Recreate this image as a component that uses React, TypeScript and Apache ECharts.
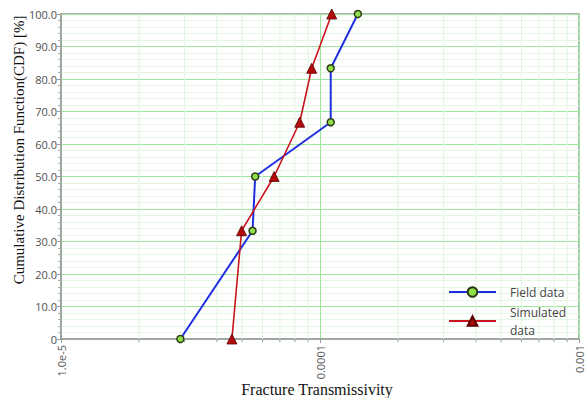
import React, { useEffect, useRef } from "react";
import * as echarts from "echarts";

const fieldX = [2.89e-5, 5.49e-5, 5.62e-5, 1.1e-4, 1.1e-4, 1.4e-4];
const fieldY = [0, 33.3, 50.0, 66.7, 83.3, 100];
const simX = [4.57e-5, 4.98e-5, 6.65e-5, 8.35e-5, 9.29e-5, 1.11e-4];
const simY = [0, 33.3, 50.0, 66.7, 83.3, 100];
const minorX = [2e-5, 3e-5, 4e-5, 5e-5, 6e-5, 7e-5, 8e-5, 9e-5, 2e-4, 3e-4, 4e-4, 5e-4, 6e-4, 7e-4, 8e-4, 9e-4];
const xTickLabels = ["1.0e-5", "0.0001", "0.001"];
const yTickLabels = ["0", "10.0", "20.0", "30.0", "40.0", "50.0", "60.0", "70.0", "80.0", "90.0", "100.0"];

export default function App() {
  const ref = useRef<HTMLDivElement>(null);
  useEffect(() => {
    if (!ref.current) return;
    const chart = echarts.init(ref.current, null, { renderer: "svg" });
    const pair = (xs: number[], ys: number[]) => xs.map((x, i) => [x, ys[i]]);
    chart.setOption({
      animation: false,
      backgroundColor: "#ffffff",
      grid: {
        left: 61, right: 6, top: 14, bottom: 59,
        containLabel: false, outerBoundsMode: "none",
        show: true, borderColor: "#9a9a9a", borderWidth: 1.5,
      },
      xAxis: {
        type: "log", logBase: 10, min: 1e-5, max: 1e-3,
        axisLine: { lineStyle: { color: "#9a9a9a", width: 1.5 } },
        axisTick: { show: true, length: 4, lineStyle: { color: "#9a9a9a" } },
        axisLabel: {
          rotate: 90, color: "#555", fontSize: 11, lineHeight: 11, fontFamily: "Open Sans", margin: 6,
          formatter: (_v: number, i: number) => xTickLabels[i] ?? "",
        },
        splitLine: { show: true, lineStyle: { color: "#9ee89e", width: 1 } },
      },
      yAxis: {
        type: "value", min: 0, max: 100, interval: 10,
        axisLine: { show: true, lineStyle: { color: "#9a9a9a", width: 1.5 } },
        axisTick: { show: true, length: 4, lineStyle: { color: "#9a9a9a" } },
        minorTick: { show: true, splitNumber: 5, length: 3, lineStyle: { color: "#aaa" } },
        axisLabel: {
          color: "#505050", fontSize: 11, fontFamily: "Open Sans", margin: 4,
          formatter: (_v: number, i: number) => yTickLabels[i] ?? "",
        },
        splitLine: { show: true, lineStyle: { color: "#9ee89e", width: 1.2 } },
        minorSplitLine: { show: true, lineStyle: { color: "#e4f7e4", width: 1 } },
      },
      legend: {
        orient: "vertical", left: 448, top: 283, itemGap: 2, padding: 0,
        itemWidth: 47, itemHeight: 12,
        data: ["Field data", "Simulated\ndata"],
        textStyle: { fontFamily: "Open Sans", fontSize: 12, color: "#444", lineHeight: 18, padding: [0, 0, 0, 9] },
      },
      graphic: [
        {
          type: "text", x: 19, y: 150, rotation: Math.PI / 2,
          style: {
            text: "Cumulative Distribution Function(CDF) [%]",
            font: "15px 'Liberation Serif'", fill: "#111",
            align: "center", verticalAlign: "middle",
          },
        },
        {
          type: "text", x: 317, y: 389,
          style: {
            text: "Fracture Transmissivity",
            font: "16px 'Liberation Serif'", fill: "#111",
            align: "center", verticalAlign: "middle",
          },
        },
      ],
      series: [
        {
          type: "custom", silent: true, z: 1,
          data: minorX.map((x) => [x, 0]),
          renderItem: (_p: any, api: any) => {
            const x = api.value(0);
            const b = api.coord([x, 0]);
            const t = api.coord([x, 100]);
            return {
              type: "group",
              children: [
                { type: "line", shape: { x1: b[0], y1: b[1], x2: t[0], y2: t[1] }, style: { stroke: "#e0f5e0", lineWidth: 1 } },
                { type: "line", shape: { x1: b[0], y1: b[1], x2: b[0], y2: b[1] + 3 }, style: { stroke: "#9a9a9a", lineWidth: 1 } },
              ],
            };
          },
        },
        {
          name: "Field data", type: "line", z: 3,
          data: pair(fieldX, fieldY),
          lineStyle: { color: "#1f2fe0", width: 2 },
          itemStyle: { color: "#8fe048", borderColor: "#2c3a14", borderWidth: 1.5 },
          symbol: "circle", symbolSize: 7, showSymbol: true,
        },
        {
          name: "Simulated\ndata", type: "line", z: 4,
          data: pair(simX, simY),
          lineStyle: { color: "#c8141c", width: 1.6 },
          itemStyle: { color: "#b00a0a", borderColor: "#5a0000", borderWidth: 0.8 },
          symbol: "triangle", symbolSize: 10, showSymbol: true,
        },
      ],
    });
    return () => chart.dispose();
  }, []);
  return <div ref={ref} style={{ position: "fixed", left: 0, top: 0, width: 585, height: 398 }} />;
}
